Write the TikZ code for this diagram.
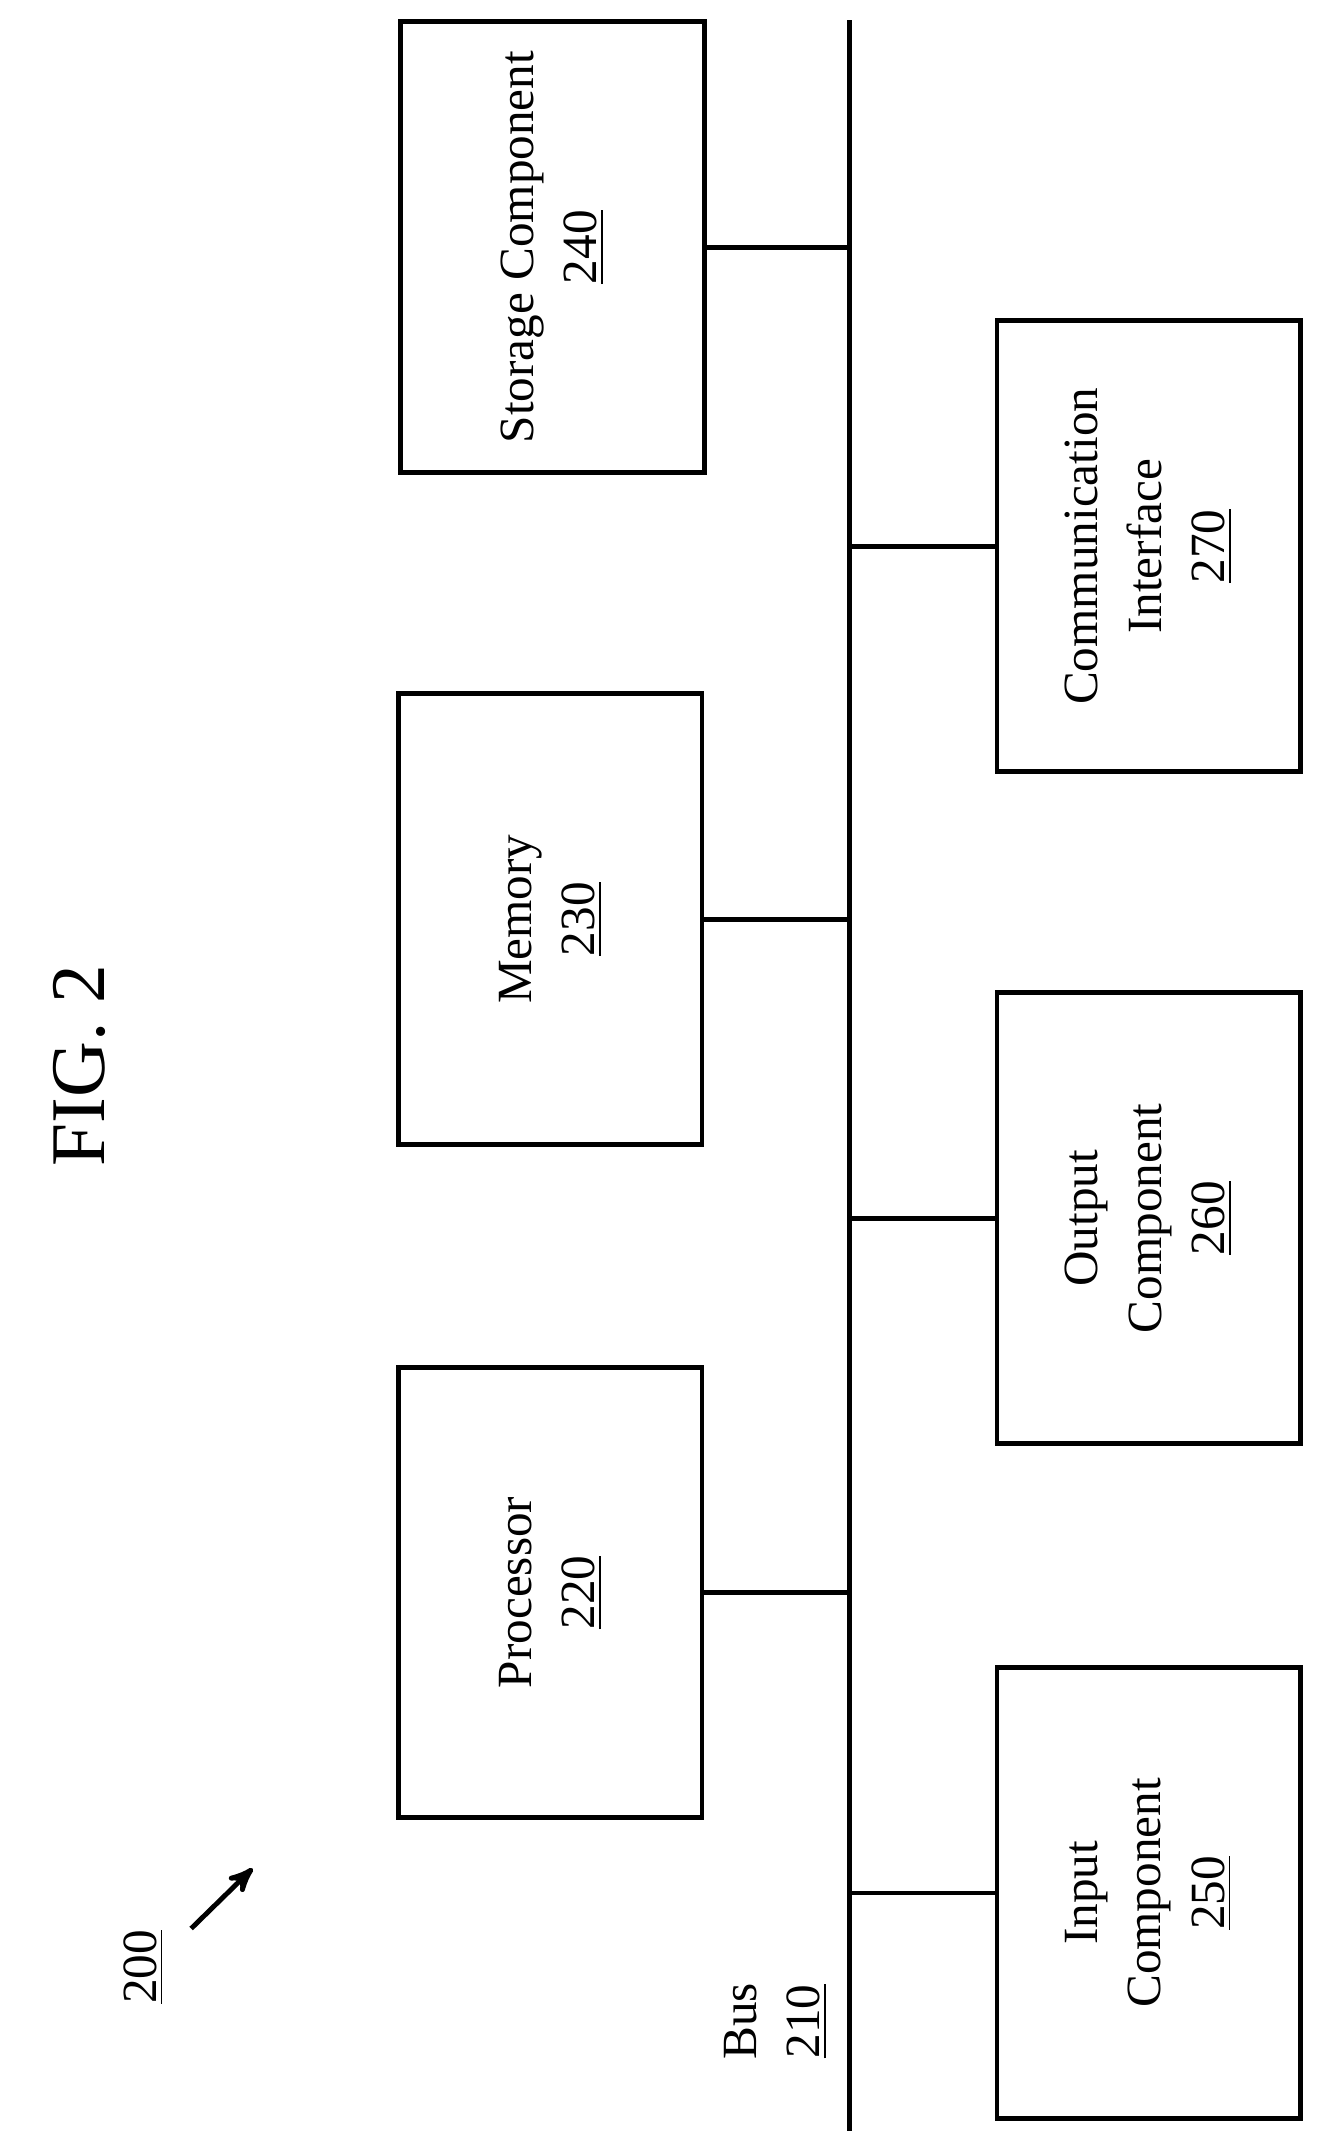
\documentclass[tikz,border=0pt]{standalone}
\usepackage{fontspec}
\setmainfont{Liberation Serif}
\usetikzlibrary{arrows}

\begin{document}
\begin{tikzpicture}[x=0.01366cm,y=-0.01366cm,>=stealth',semithick,
  comp/.style={draw,line width=1.4pt,minimum width=330*0.01366cm,minimum height=222*0.01366cm,
    rotate=90,align=center,font=\fontsize{14}{18}\selectfont},
  lbl/.style={rotate=90,align=center,font=\fontsize{14}{18}\selectfont}]
\useasboundingbox (0,0) rectangle (970,1572);

% bus
\coordinate (bt) at (622,15);
\coordinate (bb) at (622,1560);
\draw[line width=1.4pt] (bt) -- (bb);

% components above the bus
\node[comp] (S) at (404.5,181) {Storage Component\\\underline{240}};
\node[comp] (M) at (403,673) {Memory\\\underline{230}};
\node[comp] (P) at (403,1166) {Processor\\\underline{220}};
% components below the bus
\node[comp] (C) at (841,400) {Communication\\Interface\\\underline{270}};
\node[comp] (O) at (841,892) {Output\\Component\\\underline{260}};
\node[comp] (I) at (841,1386) {Input\\Component\\\underline{250}};

\foreach \n in {S,M,P}
  \draw[line width=1.4pt] (\n.south) -- (\n.south -| bt);
\foreach \n in {C,O,I}
  \draw[line width=1.4pt] (\n.north) -- (\n.north -| bt);

\node[lbl,font=\fontsize{22}{26}\selectfont] (fig) at (58,780) {FIG. 2};
\node[lbl] (bus) at (568,1480) {Bus\\\underline{210}};
\node[lbl] (ref) at (105,1440) {\underline{200}};
\coordinate (a0) at (140,1412);
\coordinate (a1) at (185,1368);
\draw[->,line width=1.4pt] (a0) -- (a1);
\end{tikzpicture}
\end{document}
